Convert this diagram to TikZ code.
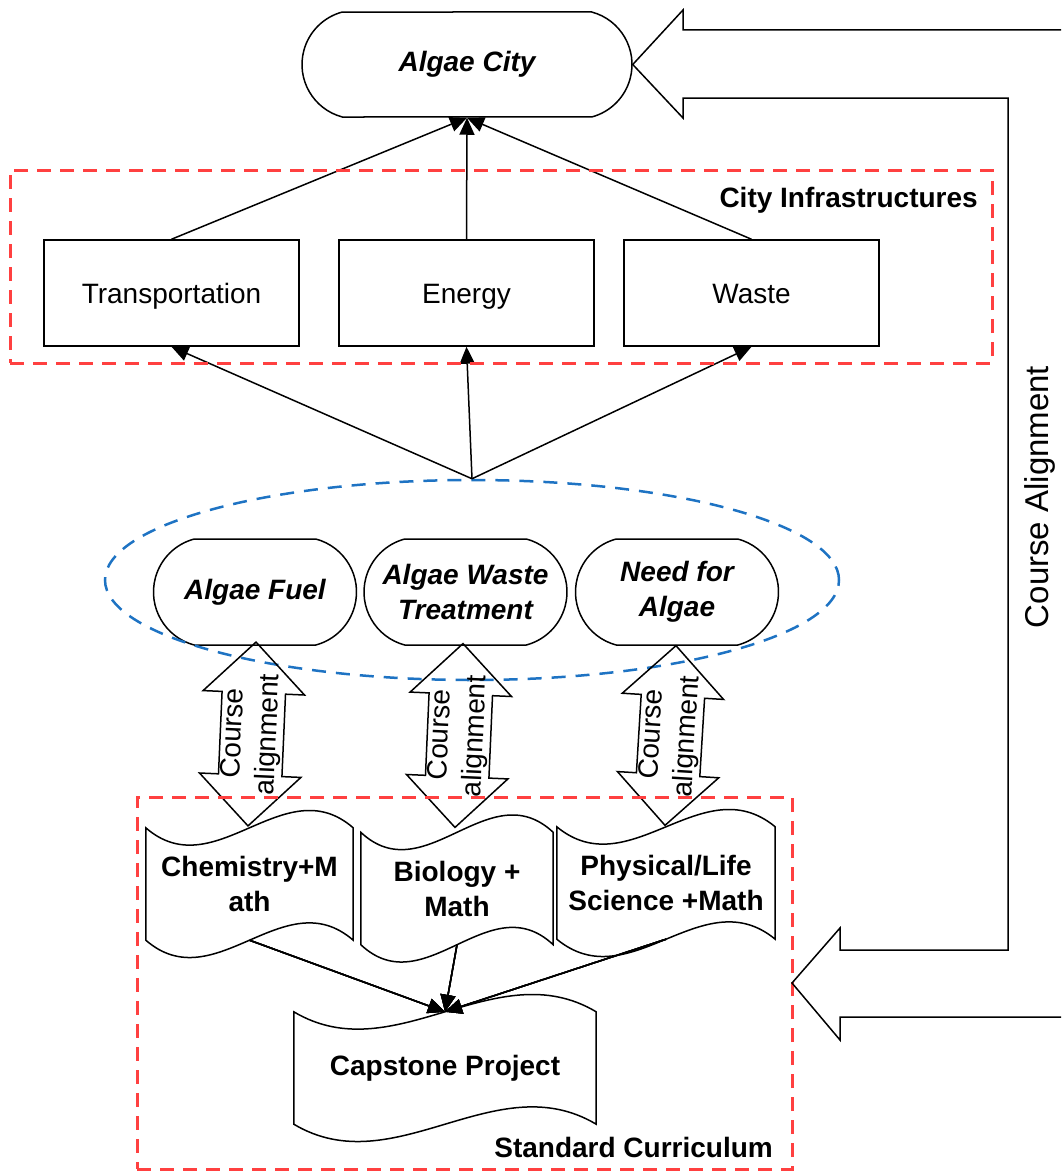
\documentclass[tikz,border=0pt]{standalone}
\usepackage{fontspec}
\setmainfont{Liberation Sans}
\usetikzlibrary{shapes.geometric,shapes.misc,shapes.arrows,arrows.meta,calc}
\definecolor{framered}{RGB}{255,64,64}
\definecolor{frameblue}{RGB}{30,115,195}

% wavy outline round a course node
\newcommand{\tapeoutline}[1]{%
  \draw[line width=1.5pt] let \p1=(#1.north west), \p2=(#1.north east), \n1={(\x2-\x1)/3} in
    (\p1) .. controls +(\n1,60) and +(-\n1,-60) .. (\p2) -- (#1.south east)
    .. controls +(-\n1,-60) and +(\n1,60) .. (#1.south west) -- cycle;}

\begin{document}
\begin{tikzpicture}[
    x=1pt, y=-1pt,
    >={Triangle[length=17pt,width=15pt]},
    every node/.style={font=\fontsize{28}{35}\selectfont, align=center},
    pill/.style={draw, line width=1.5pt, rounded rectangle, rounded rectangle arc length=150,
        minimum width=203pt, minimum height=106pt, inner sep=0pt,
        font=\fontsize{28}{35}\selectfont\bfseries\itshape},
    infra/.style={draw, line width=1.5pt, rectangle, minimum width=255pt, minimum height=106pt,
        text height=20pt, text depth=0pt},
    course/.style={rectangle, minimum height=112pt, inner sep=0pt,
        font=\fontsize{28}{35}\selectfont\bfseries},
    alignarrow/.style={draw, line width=1.5pt, double arrow, double arrow head extend=19pt,
        minimum width=100pt, minimum height=184pt, inner xsep=0pt, inner ysep=31pt},
    redframe/.style={draw=framered, line width=3pt, dash pattern=on 14pt off 9pt, outer sep=0pt},
    blueframe/.style={draw=frameblue, line width=2.5pt, dash pattern=on 14pt off 10pt},
    link/.style={->, line width=1.5pt}
]
\useasboundingbox (0,0) rectangle (1061,1172);

% top: the city and its infrastructures
\node[pill, minimum width=330pt, minimum height=105pt] (city) at (467,64.5) {Algae City};
\node[infra] (trans) at (171.5,293) {Transportation};
\node[infra] (energy) at (466.5,293) {Energy};
\node[infra] (waste) at (751.5,293) {Waste};
\foreach \c in {trans,energy,waste}
    \draw[link] (\c.north) -- (city.south);

% algae topics
\node[pill] (fuel) at (255,592) {Algae Fuel};
\node[pill] (treat) at (465.5,592) {Algae Waste\\Treatment};
\node[pill] (need) at (677,592) {Need for\\Algae};
\node[blueframe, ellipse, minimum width=734pt, minimum height=200pt] (topics) at (472,580) {};
\foreach \c in {trans,energy,waste}
    \draw[link] (topics.north) -- (\c.south);

% courses
\node[course, minimum width=207pt] (chem) at (249.5,884) {Chemistry+M\\ath};
\node[course, minimum width=192pt] (bio) at (457,888.5) {Biology +\\Math};
\node[course, minimum width=218pt] (phys) at (666,883) {Physical/Life\\Science +Math};
\node[course, minimum width=302pt] (cap) at (445,1068) {Capstone Project};
\foreach \c in {chem,bio,phys,cap}
    \tapeoutline{\c}
\foreach \c in {chem,bio,phys}
    \draw[link] (\c.south) -- (cap.north);

% course alignment arrows
\node[alignarrow, rotate=87.5] (ca1) at (252,734) {};
\node[rotate=87.5] at (ca1) {Course\\alignment};
\node[alignarrow, rotate=87.5] (ca2) at (459,735.5) {};
\node[rotate=87.5] at (ca2) {Course\\alignment};
\node[alignarrow, rotate=86.5, minimum height=180pt] (ca3) at (670.5,735.5) {};
\node[rotate=86.5] at (ca3) {Course\\alignment};

% frames
\node[redframe, minimum width=982pt, minimum height=193pt] (infraframe) at (501,266.5) {};
\node[anchor=north east, inner sep=0pt, font=\fontsize{28}{35}\selectfont\bfseries]
    at (978,187) {City Infrastructures};
\node[redframe, minimum width=655pt, minimum height=372pt] (curr) at (464.5,983) {};
\node[anchor=north east, inner sep=0pt, font=\fontsize{28}{35}\selectfont\bfseries]
    at (773,1137) {Standard Curriculum};

% outer loop
\draw[line width=1.5pt] (1061,30) -- (683,30) -- (683,10) -- (city.east) -- (683,118)
    -- (683,98) -- (1008,98) -- (1008,950) -- (840,950) -- (840,928) -- (curr.east)
    -- (840,1040) -- (840,1017) -- (1061,1017);
\node[rotate=90, font=\fontsize{33}{38}\selectfont] (loop) at (1040,497) {Course Alignment};
\end{tikzpicture}
\end{document}
